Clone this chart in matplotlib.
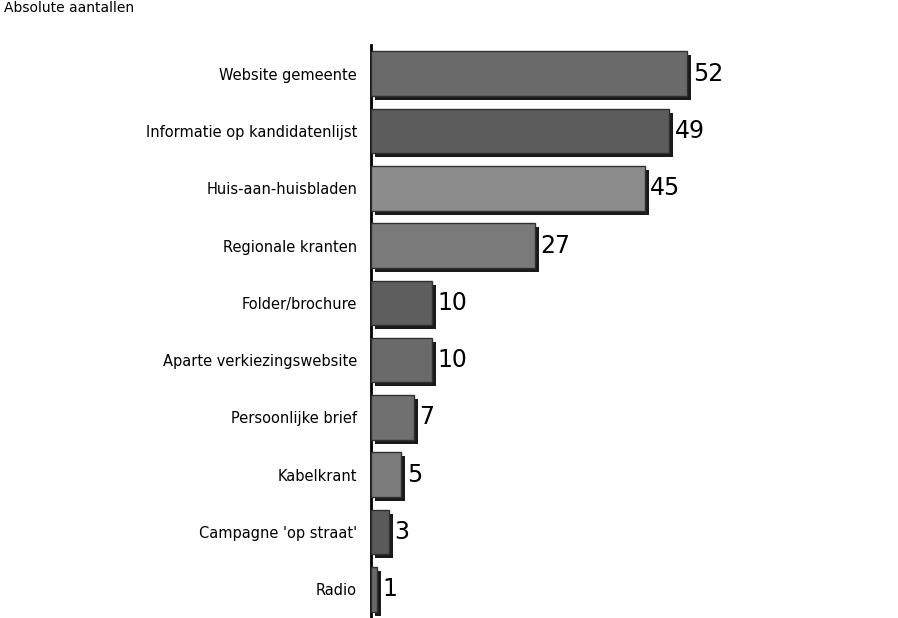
import matplotlib.pyplot as plt
from matplotlib.transforms import ScaledTranslation

# Data
categories = ["Website gemeente", "Informatie op kandidatenlijst", "Huis-aan-huisbladen",
              "Regionale kranten", "Folder/brochure", "Aparte verkiezingswebsite",
              "Persoonlijke brief", "Kabelkrant", "Campagne 'op straat'", "Radio"]
counts = [52, 49, 45, 27, 10, 10, 7, 5, 3, 1]
shades = ["#6a6a6a", "#5c5c5c", "#8c8c8c", "#7a7a7a", "#5e5e5e",
          "#6a6a6a", "#707070", "#7c7c7c", "#5a5a5a", "#6a6a6a"]

fig = plt.figure(figsize=(8.98, 6.18), dpi=100)
ax = fig.add_axes([371 / 898, 0.0, 1 - 371 / 898, 1 - 45 / 618])

ypos = list(range(len(categories)))

# shadow bars, shifted a few pixels right/down
shadow = ScaledTranslation(4 / 100, -4 / 100, fig.dpi_scale_trans)
ax.barh(ypos, counts, height=0.78, color="#1a1a1a", left=0,
        transform=ax.transData + shadow, zorder=2)
ax.barh(ypos, counts, height=0.78, color=shades, edgecolor="#303030",
        linewidth=1.0, zorder=3)

for y, v in zip(ypos, counts):
    ax.text(v + 0.9, y, str(v), va="center", ha="left", fontsize=17,
            color="black", zorder=4)

ax.set_xlim(0, 527 / 6.08)
ax.set_ylim(len(categories) - 0.5, -0.5)
ax.set_yticks(ypos)
ax.set_yticklabels(categories, fontsize=10.5)
ax.tick_params(axis="y", length=0, pad=10)
ax.set_xticks([])
for s in ["top", "right", "bottom"]:
    ax.spines[s].set_visible(False)
ax.spines["left"].set_linewidth(2)
ax.spines["left"].set_color("black")

fig.text(0.004, 0.998, "Absolute aantallen", ha="left", va="top", fontsize=10)

fig.savefig("out.png", dpi=100)
